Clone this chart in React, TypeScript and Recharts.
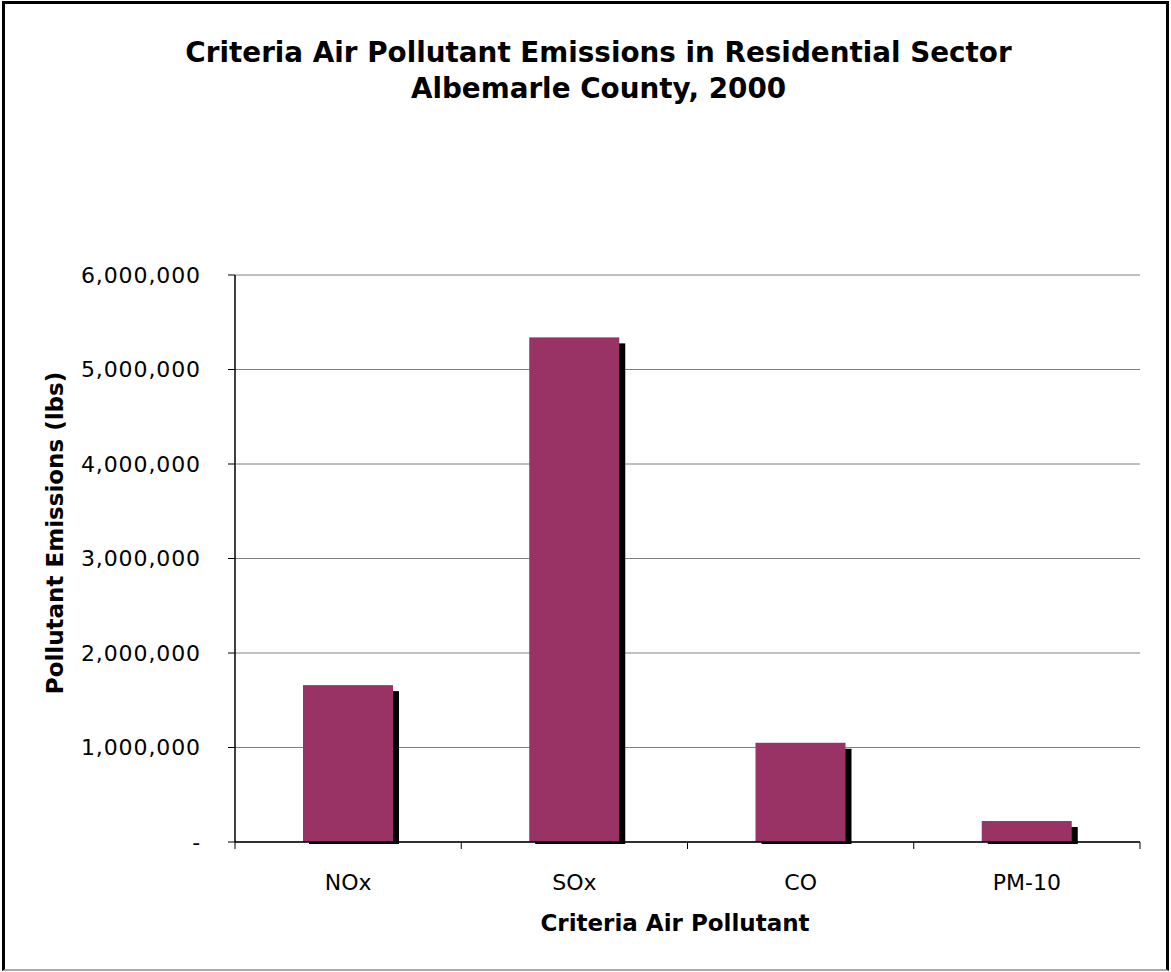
import React from 'react';
import { BarChart, Bar, XAxis, YAxis, CartesianGrid } from 'recharts';

const POLLUTANTS = ['NOx', 'SOx', 'CO', 'PM-10'];
const EMISSIONS_LBS = [1660000, 5340000, 1050000, 222000];
const Y_TICKS = [0, 1000000, 2000000, 3000000, 4000000, 5000000, 6000000];

const W = 1171;
const H = 972;
const MARGIN = { top: 275, right: 31, bottom: 100, left: 85 };
const Y_AXIS_W = 150;
const PLOT_W = W - MARGIN.left - Y_AXIS_W - MARGIN.right;
const BAND = PLOT_W / POLLUTANTS.length;

const FONT = "'DejaVu Sans', Verdana, sans-serif";
const BAR_FILL = '#993366';
const GRID = '#808080';

const data = POLLUTANTS.map((name, i) => ({ name, lbs: EMISSIONS_LBS[i] }));

const fmtLbs = (v: number) => (v === 0 ? '-' : v.toLocaleString('en-US'));

// bar with a hard black drop shadow down and to the right
function ShadowBar(props: any) {
  const { x, y, width, height } = props;
  if (!height || height <= 0) return null;
  return (
    <g>
      <rect x={x + 6} y={y + 6} width={width} height={Math.max(height - 4, 0)} fill="#000" />
      <rect x={x} y={y} width={width} height={height} fill={BAR_FILL} />
    </g>
  );
}

// category label plus tick marks on the band boundaries
function CategoryTick(props: any) {
  const { x, y, payload } = props;
  const last = payload.index === POLLUTANTS.length - 1;
  return (
    <g>
      <line x1={x - BAND / 2} x2={x - BAND / 2} y1={y} y2={y + 7} stroke="#000" strokeWidth={1} />
      {last && <line x1={x + BAND / 2} x2={x + BAND / 2} y1={y} y2={y + 7} stroke="#000" strokeWidth={1} />}
      <text x={x} y={y + 48} textAnchor="middle" fontFamily={FONT} fontSize={22} fill="#000">
        {payload.value}
      </text>
    </g>
  );
}

export default function App() {
  return (
    <div style={{ position: 'absolute', left: 0, top: 0, width: W, height: H, background: '#fff', fontFamily: FONT }}>
      <div
        style={{
          position: 'absolute', left: 2, top: 1, width: 1167, height: 970, boxSizing: 'border-box',
          borderLeft: '3px solid #000', borderTop: '3px solid #000', borderRight: '3px solid #000',
          borderBottom: '2px solid #aaa',
        }}
      />
      <div style={{ position: 'absolute', left: 13, width: W, top: 35, textAlign: 'center', fontWeight: 'bold', fontSize: 27.8, lineHeight: '36px', color: '#000' }}>
        Criteria Air Pollutant Emissions in Residential Sector
        <br />
        Albemarle County, 2000
      </div>

      <BarChart width={W} height={H} data={data} margin={MARGIN} style={{ position: 'absolute', left: 0, top: 0 }}>
        <CartesianGrid horizontal vertical={false} stroke={GRID} strokeWidth={1} />
        <XAxis
          dataKey="name"
          axisLine={{ stroke: '#000', strokeWidth: 1.5 }}
          tickLine={false}
          tickSize={0}
          tickMargin={0}
          height={30}
          interval={0}
          tick={<CategoryTick />}
        />
        <YAxis
          width={Y_AXIS_W}
          domain={[0, 6000000]}
          ticks={Y_TICKS}
          tickFormatter={fmtLbs}
          axisLine={{ stroke: '#000', strokeWidth: 1.5 }}
          tickLine={{ stroke: '#000' }}
          tickSize={7}
          tickMargin={27}
          tick={{ fill: '#000', fontSize: 22, fontFamily: FONT, letterSpacing: 0.9 }}
        />
        <YAxis
          yAxisId="edge"
          orientation="right"
          width={0}
          domain={[0, 1]}
          tick={false}
          tickLine={false}
          axisLine={{ stroke: GRID, strokeWidth: 2 }}
        />
        <Bar dataKey="lbs" barSize={90} shape={<ShadowBar />} isAnimationActive={false} />
      </BarChart>

      <div style={{ position: 'absolute', left: 235, width: 880, top: 910, textAlign: 'center', fontWeight: 'bold', fontSize: 23, color: '#000' }}>
        Criteria Air Pollutant
      </div>
      <div
        style={{
          position: 'absolute', left: 55, top: 533, transform: 'translate(-50%, -50%) rotate(-90deg)',
          whiteSpace: 'nowrap', fontWeight: 'bold', fontSize: 23, color: '#000',
        }}
      >
        Pollutant Emissions (lbs)
      </div>
    </div>
  );
}
